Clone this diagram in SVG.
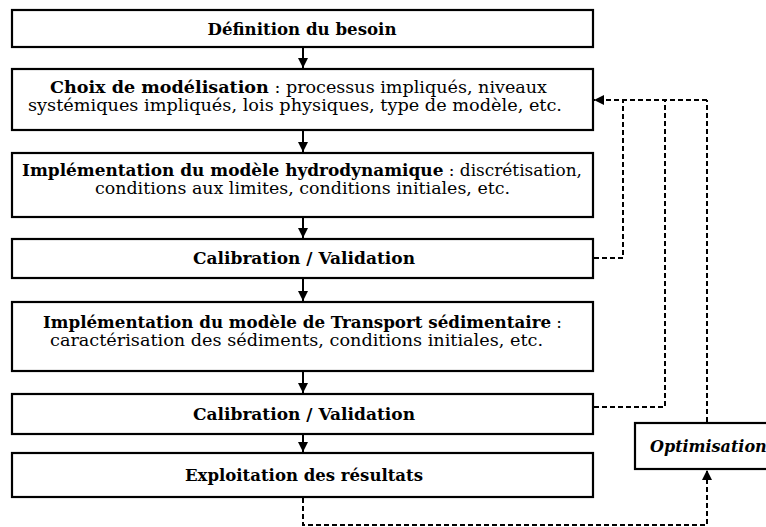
<svg xmlns="http://www.w3.org/2000/svg" width="766" height="527" viewBox="0 0 766 527">
<defs>
<style>
.box{fill:#fff;stroke:#000;stroke-width:2.2}
text{font-family:"DejaVu Serif","Liberation Serif",serif;font-size:16px;fill:#000}
.b{font-weight:bold}
.flow{stroke:#000;stroke-width:2;fill:none}
.dash{stroke:#000;stroke-width:2;fill:none;stroke-dasharray:5 3}
</style>
<marker id="ah" viewBox="0 0 10 10" refX="10" refY="5" markerWidth="5" markerHeight="5" orient="auto" markerUnits="strokeWidth">
<path d="M0,0 L10,5 L0,10 z" fill="#000"/>
</marker>
</defs>
<rect width="766" height="527" fill="#fff"/>
<g id="n1"><rect class="box" x="12" y="10" width="581" height="37"/>
<text class="b" x="302" y="35" text-anchor="middle" textLength="189" lengthAdjust="spacingAndGlyphs">Définition du besoin</text></g>
<g id="n2"><rect class="box" x="12" y="69" width="581" height="61"/>
<text x="50" y="93" textLength="497" lengthAdjust="spacingAndGlyphs"><tspan class="b">Choix de modélisation</tspan> : processus impliqués, niveaux</text>
<text x="28" y="111" textLength="534" lengthAdjust="spacingAndGlyphs">systémiques impliqués, lois physiques, type de modèle, etc.</text></g>
<g id="n3"><rect class="box" x="12" y="153" width="581" height="64"/>
<text x="22" y="176" textLength="560" lengthAdjust="spacingAndGlyphs"><tspan class="b">Implémentation du modèle hydrodynamique</tspan> : discrétisation,</text>
<text x="95" y="194" textLength="415" lengthAdjust="spacingAndGlyphs">conditions aux limites, conditions initiales, etc.</text></g>
<g id="n4"><rect class="box" x="12" y="239" width="581" height="39"/>
<text class="b" x="193" y="264" textLength="222" lengthAdjust="spacingAndGlyphs">Calibration / Validation</text></g>
<g id="n5"><rect class="box" x="12" y="302" width="581" height="69"/>
<text x="43" y="328" textLength="519" lengthAdjust="spacingAndGlyphs"><tspan class="b">Implémentation du modèle de Transport sédimentaire</tspan> :</text>
<text x="50" y="346" textLength="493" lengthAdjust="spacingAndGlyphs">caractérisation des sédiments, conditions initiales, etc.</text></g>
<g id="n6"><rect class="box" x="12" y="394" width="581" height="40"/>
<text class="b" x="193" y="420" textLength="222" lengthAdjust="spacingAndGlyphs">Calibration / Validation</text></g>
<g id="n7"><rect class="box" x="12" y="453" width="581" height="44"/>
<text class="b" x="185" y="481" textLength="238" lengthAdjust="spacingAndGlyphs">Exploitation des résultats</text></g>
<g id="n8"><rect class="box" x="635" y="423" width="150" height="46"/>
<text class="b" x="650" y="452" font-style="italic">Optimisation</text></g>
<g id="connectors">
<line class="flow" x1="303" y1="47" x2="303" y2="68" marker-end="url(#ah)"/>
<line class="flow" x1="303" y1="130" x2="303" y2="152" marker-end="url(#ah)"/>
<line class="flow" x1="303" y1="217" x2="303" y2="238" marker-end="url(#ah)"/>
<line class="flow" x1="303" y1="278" x2="303" y2="301" marker-end="url(#ah)"/>
<line class="flow" x1="303" y1="371" x2="303" y2="393" marker-end="url(#ah)"/>
<line class="flow" x1="303" y1="434" x2="303" y2="452" marker-end="url(#ah)"/>
<polyline class="dash" points="594,258 623,258 623,100"/>
<polyline class="dash" points="594,407 665,407 665,100"/>
<line class="dash" x1="707" y1="422" x2="707" y2="100"/>
<line class="dash" x1="707" y1="100" x2="594" y2="100" marker-end="url(#ah)"/>
<polyline class="dash" points="303,498 303,525 707,525 707,470" marker-end="url(#ah)"/>
</g>
</svg>
